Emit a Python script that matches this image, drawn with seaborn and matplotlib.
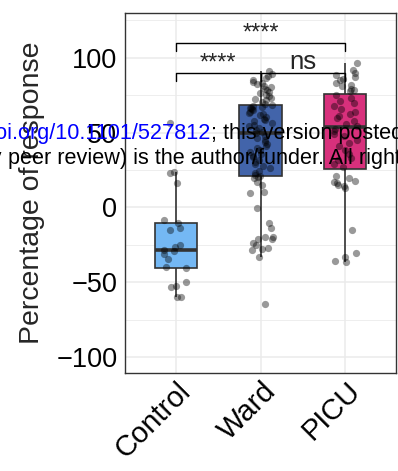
import numpy as np
import pandas as pd
import seaborn as sns
import matplotlib
matplotlib.use("Agg")
import matplotlib.pyplot as plt
from matplotlib.ticker import MultipleLocator
import matplotlib.transforms as mtransforms

# Percentage of response per group
groups = ["Control", "Ward", "PICU"]
control = [-60, -59.7, -53, -52.5, -49.6, -40.5, -40, -34.7, -31, -28.9, -28.6,
           -26.2, -25, -15, -13.9, -10.6, -8.4, 16.2, 23.3, 24, 56.7]
ward = [-64.7, -32.9, -28.5, -28, -27.3, -25, -24, -21.3, -21, -20, -19.5,
        -13.9, -10.2, -0.6, 9.9, 10.6, 15, 17.3, 19.5, 20.5, 21.0,
        21.4, 23, 24.5, 26.3, 27.5, 28.8, 30.5, 32, 33.4, 34.5, 36, 37.2,
        38.5, 40, 41.3, 42.5, 44, 45.2, 46.5, 48, 49.5,
        50.5, 52, 53.2, 54.5, 55.3, 56.5, 57.6, 58.5, 59.4, 60.5, 61.7,
        62.5, 63.3, 64, 65, 65.6, 66.2, 66.5, 67.1, 68, 68.5,
        69, 70.2, 71.5, 72.4, 73.5, 74.6, 75.5, 76.3, 77.5, 78.4, 79,
        80.2, 81, 82.3, 83, 84.1, 85, 86.5, 88, 89.5, 91]
picu = [-36.2, -36, -32.9, -30.6, -15, 13, 14.4, 15, 16.5, 17, 18, 19.5, 21,
        27.3, 29, 31.5, 33, 36, 38.5, 41, 43, 45, 47.5, 49, 51, 52.5,
        54.7, 56, 58, 59.5, 61, 62.5, 64, 66, 68, 69.5, 71, 73, 75,
        77.8, 78.6, 79.5, 81, 82, 83.5, 85, 86, 87.5, 88.6, 89.8, 92, 96.4]
palette = {"Control": "#74B8F4", "Ward": "#4264AA", "PICU": "#D8307C"}

df = pd.DataFrame({
    "group": ["Control"] * len(control) + ["Ward"] * len(ward) + ["PICU"] * len(picu),
    "value": control + ward + picu,
})

# Pairwise comparison labels: (left group, right group, bracket height, label)
comparisons = [(0, 1, 89.8, "****"), (1, 2, 89.8, "ns"), (0, 2, 109.8, "****")]

sns.set_theme(style="white")
plt.rcParams["font.family"] = ["Liberation Sans", "DejaVu Sans"]

fig = plt.figure(figsize=(3.98, 4.71), dpi=100)
ax = fig.add_axes([125 / 398, 1 - 373 / 471, 271 / 398, 360 / 471])

sns.boxplot(data=df, x="group", y="value", hue="group", order=groups,
            hue_order=groups, palette=palette, saturation=1, width=0.5,
            showcaps=False, showfliers=False, linecolor="#333333",
            linewidth=1.2, medianprops=dict(linewidth=2.6), legend=False,
            ax=ax, zorder=2)

np.random.seed(3)
sns.stripplot(data=df, x="group", y="value", order=groups, color="black",
              alpha=0.4, size=5.2, jitter=0.15, ax=ax, zorder=3)

ax.set_xlim(-0.6, 2.6)
ax.set_ylim(-110.7, 130)
ax.yaxis.set_major_locator(MultipleLocator(50))
ax.yaxis.set_minor_locator(MultipleLocator(25))
ax.grid(True, which="major", color="#EBEBEB", linewidth=1.1, zorder=0)
ax.grid(True, which="minor", axis="y", color="#EBEBEB", linewidth=0.6, zorder=0)
ax.set_axisbelow(True)
for s in ax.spines.values():
    s.set_color("#333333")
    s.set_linewidth(1.0)
ax.tick_params(axis="y", which="major", length=3.5, width=1, color="#333333",
               labelsize=19.5, labelcolor="black", pad=2)
ax.tick_params(axis="x", which="major", length=3.5, width=1, color="#333333",
               labelsize=21, labelcolor="black", pad=2)
ax.tick_params(axis="y", which="minor", length=0)
ax.set_xlabel("")
ax.set_ylabel("Percentage of response", fontsize=20.5, labelpad=8)

offset = mtransforms.ScaledTranslation(1 / 100, 4 / 100, fig.dpi_scale_trans)
for lab in ax.get_xticklabels():
    lab.set_rotation(45)
    lab.set_ha("right")
    lab.set_va("top")
    lab.set_rotation_mode("anchor")
    lab.set_transform(lab.get_transform() + offset)

# Significance brackets
for x0, x1, yb, label in comparisons:
    ax.plot([x0, x0, x1, x1], [yb - 5.5, yb, yb, yb - 5.5], color="black",
            linewidth=1.0, zorder=4)
    if label == "ns":
        ax.text((x0 + x1) / 2, yb + 3, label, ha="center", va="baseline",
                fontsize=18.5, zorder=5)
    else:
        ax.text((x0 + x1) / 2, yb + 2.3, label, ha="center", va="baseline",
                fontsize=17, zorder=5)

# Preprint notice overlaid on the figure
fs = 15.6
fig.text(210.7 / 398, 1 - 139 / 471, "bioRxiv preprint doi: https://doi.org/10.1101/527812",
         color="#0000FF", fontsize=fs, ha="right", va="baseline")
fig.text(210.7 / 398, 1 - 139 / 471,
         "; this version posted January 23, 2019. The copyright holder for this preprint",
         color="black", fontsize=fs, ha="left", va="baseline")
fig.text(8 / 398, 1 - 164 / 471, "(which was not certified by ",
         color="black", fontsize=fs, ha="right", va="baseline")
fig.text(8 / 398, 1 - 164 / 471,
         "peer review) is the author/funder. All rights reserved. No reuse allowed without permission.",
         color="black", fontsize=fs, ha="left", va="baseline")

fig.savefig("out.png", dpi=100)
